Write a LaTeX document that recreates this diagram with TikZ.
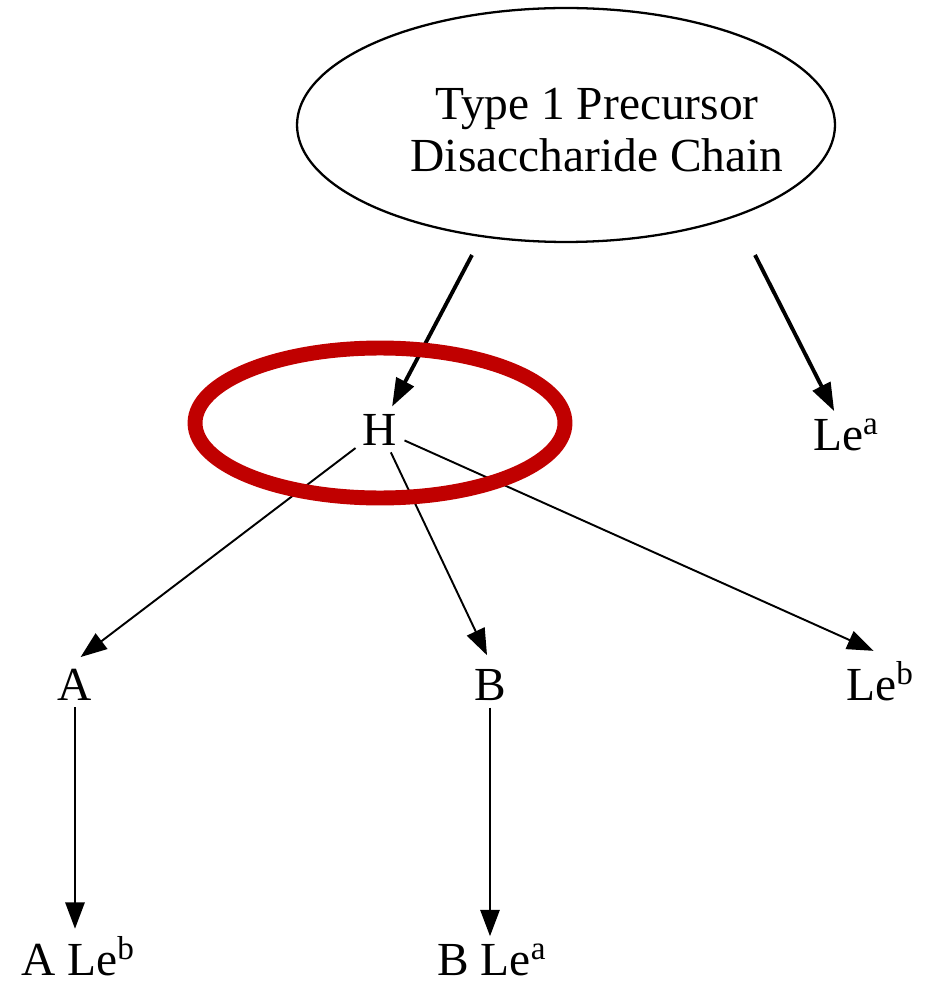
\documentclass[tikz,border=0pt]{standalone}
\usepackage{fontspec}
\setmainfont{Liberation Serif}
\usetikzlibrary{arrows.meta}
\definecolor{markred}{RGB}{192,0,0}
\tikzset{
  sugar/.style={font=\fontsize{27}{29.5}\selectfont, inner sep=4pt, anchor=base},
  bigarrow/.style={line width=2.2pt, -{Triangle[length=16pt,width=11pt]}},
  smallarrow/.style={line width=1.1pt, -{Triangle[length=15pt,width=11pt]}},
}
\begin{document}
\begin{tikzpicture}[x=0.02cm, y=-0.02cm]
      \useasboundingbox (0,0) rectangle (930,982);

      % precursor chain
      \draw[line width=1.3pt] (566,125) ellipse[x radius=5.38cm, y radius=2.34cm];
      \node[sugar, align=center, anchor=center] (prec) at (597,130) {Type 1 Precursor\\Disaccharide Chain};
      \coordinate (precL) at (472,255);
      \coordinate (precR) at (755,255);

      % antigens
      \node[sugar] (h) at (380,445) {H};
      \node[sugar] (lea) at (846,450) {Le\textsuperscript{a}};
      \node[sugar] (a) at (75,700) {A};
      \node[sugar] (b) at (490,700) {B};
      \node[sugar] (leb) at (880,700) {Le\textsuperscript{b}};
      \node[sugar] (aleb) at (78,975) {A Le\textsuperscript{b}};
      \node[sugar] (blea) at (492,975) {B Le\textsuperscript{a}};

      \draw[bigarrow] (precL) -- (h);
      \draw[bigarrow] (precR) -- (lea);
      \draw[smallarrow, shorten >=4pt] (h) -- (a.north);
      \draw[smallarrow, shorten >=4pt] (h) -- (b.north);
      \draw[smallarrow, shorten >=4pt] (h) -- (leb.north);
      \draw[smallarrow] (a) -- (a |- aleb.north);
      \draw[smallarrow] (b) -- (b |- blea.north);

      % highlight
      \draw[markred, line width=8.5pt] (380,423) ellipse[x radius=3.7cm, y radius=1.5cm];
\end{tikzpicture}
\end{document}
